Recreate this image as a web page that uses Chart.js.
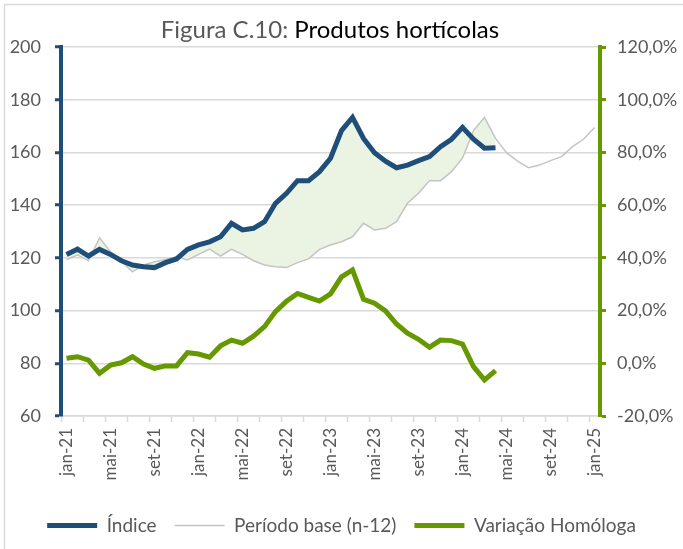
<!DOCTYPE html>
<html lang="pt">
<head>
<meta charset="utf-8">
<title>Figura C.10: Produtos hortícolas</title>
<script src="https://cdn.jsdelivr.net/npm/chart.js@4.4.1/dist/chart.umd.min.js"></script>
<style>
  html, body { margin: 0; padding: 0; background: #ffffff; }
  #wrap { width: 683px; height: 549px; position: relative; }
</style>
</head>
<body>
<div id="wrap"><canvas id="grafico"></canvas></div>
<script>
// --- dados ---
const meses = ['jan', 'fev', 'mar', 'abr', 'mai', 'jun', 'jul', 'ago', 'set', 'out', 'nov', 'dez'];
const anos = ['21', '22', '23', '24'];

// Índice (jan-21 a abr-24)
const indice = [
  121.3, 123.3, 120.7, 123.2, 121.3, 118.9, 117.3, 116.6, 116.3, 118.2, 119.6, 123.2,
  124.9, 126.1, 128.0, 133.1, 130.6, 131.2, 133.7, 140.7, 144.5, 149.3, 149.3, 152.7,
  157.8, 168.3, 173.3, 165.3, 159.9, 156.7, 154.2, 155.2, 156.9, 158.4, 162.2, 165.0,
  169.5, 165.0, 161.6, 161.8
];

// Período base (n-12), jan-21 a jan-25
const periodoBase = [
  119.4, 121.1, 118.9, 127.6, 122.3, 118.5, 114.7, 117.3, 118.5, 119.4, 120.4, 119.2,
  121.3, 123.3, 120.7, 123.2, 121.3, 118.9, 117.3, 116.6, 116.3, 118.2, 119.6, 123.2,
  124.9, 126.1, 128.0, 133.1, 130.6, 131.2, 133.7, 140.7, 144.5, 149.3, 149.3, 152.7,
  157.8, 168.3, 173.3, 165.3, 159.9, 156.7, 154.2, 155.2, 156.9, 158.4, 162.2, 165.0,
  169.5
];

// Variação homóloga (%), jan-21 a abr-24
const variacao = [
  1.9, 2.5, 1.2, -3.8, -0.7, 0.2, 2.5, -0.3, -1.9, -1.0, -1.0, 4.0,
  3.5, 2.3, 6.6, 8.8, 7.6, 10.3, 13.9, 19.6, 23.6, 26.5, 25.0, 23.6,
  26.3, 32.8, 35.4, 24.3, 22.8, 19.9, 14.9, 11.4, 9.1, 6.1, 8.8, 8.6,
  7.3, -1.3, -6.3, -2.8
];

// categorias mensais jan-21 ... jan-25
const categorias = [];
anos.forEach(a => meses.forEach(m => categorias.push(m + '-' + a)));
categorias.push('jan-25');

const nulos = n => Array(n).fill(null);
const serieIndice = indice.concat(nulos(categorias.length - indice.length));
const serieVariacao = variacao.concat(nulos(categorias.length - variacao.length));

// --- cores ---
const AZUL = '#1f4e79';
const VERDE = '#669900';
const CINZA = '#c4c4c4';
const GRELHA = '#d9d9d9';
const TEXTO = '#595959';
const PREENCHIMENTO = '#ebf3e3';

Chart.defaults.font.family = 'Lato, "Open Sans", sans-serif';
Chart.defaults.font.size = 18;
Chart.defaults.color = TEXTO;

// título a duas cores + moldura
const tituloPlugin = {
  id: 'titulo',
  afterDraw(chart) {
    const ctx = chart.ctx;
    ctx.save();
    // moldura (só esquerda e topo visíveis)
    ctx.strokeStyle = GRELHA;
    ctx.lineWidth = 1.5;
    ctx.beginPath();
    ctx.moveTo(4.5, 549);
    ctx.lineTo(4.5, 4.5);
    ctx.lineTo(683, 4.5);
    ctx.stroke();

    ctx.font = '24px Lato, "Open Sans", sans-serif';
    ctx.textBaseline = 'alphabetic';
    const parte1 = 'Figura C.10: ';
    const parte2 = 'Produtos hortícolas';
    const w1 = ctx.measureText(parte1).width;
    const w2 = ctx.measureText(parte2).width;
    const x0 = 330 - (w1 + w2) / 2;
    ctx.fillStyle = TEXTO;
    ctx.fillText(parte1, x0, 38);
    ctx.fillStyle = '#000000';
    ctx.fillText(parte2, x0 + w1, 38);
    ctx.restore();
  }
};

new Chart(document.getElementById('grafico'), {
  type: 'line',
  data: {
    labels: categorias,
    datasets: [
      {
        label: 'Índice',
        data: serieIndice,
        borderColor: AZUL,
        backgroundColor: PREENCHIMENTO,
        borderWidth: 5,
        pointRadius: 0,
        tension: 0,
        yAxisID: 'y',
        fill: { target: 1, above: PREENCHIMENTO, below: PREENCHIMENTO }
      },
      {
        label: 'Período base (n-12)',
        data: periodoBase,
        borderColor: CINZA,
        borderWidth: 1.5,
        pointRadius: 0,
        tension: 0,
        yAxisID: 'y',
        fill: false
      },
      {
        label: 'Variação Homóloga',
        data: serieVariacao,
        borderColor: VERDE,
        borderWidth: 5,
        pointRadius: 0,
        tension: 0,
        yAxisID: 'y1',
        fill: false
      }
    ]
  },
  options: {
    responsive: true,
    maintainAspectRatio: false,
    animation: false,
    layout: { padding: { top: 47, left: 0, right: 0, bottom: 4 } },
    scales: {
      x: {
        offset: true,
        grid: {
          offset: true,
          drawOnChartArea: false,
          tickLength: 6,
          tickWidth: 1.5,
          tickColor: ctx => (ctx.index % 2 === 0 ? GRELHA : 'rgba(0,0,0,0)')
        },
        border: { color: GRELHA, width: 1.5 },
        ticks: {
          autoSkip: false,
          minRotation: 90,
          maxRotation: 90,
          padding: 6,
          color: TEXTO,
          font: { size: 17 },
          callback: function (val, i) { return i % 4 === 0 ? this.getLabelForValue(val) : ''; }
        },
        afterFit: s => { s.height = 82; }
      },
      y: {
        position: 'left',
        min: 60,
        max: 200,
        ticks: { stepSize: 20, padding: 14, color: TEXTO },
        grid: { color: GRELHA, lineWidth: 1.5, tickLength: 6, tickColor: AZUL, tickWidth: 3 },
        border: { color: AZUL, width: 4 },
        afterFit: s => { s.width = 61; }
      },
      y1: {
        position: 'right',
        min: -20,
        max: 120,
        ticks: {
          stepSize: 20,
          padding: 11,
          color: TEXTO,
          callback: v => v.toFixed(1).replace('.', ',') + '%'
        },
        grid: { drawOnChartArea: false, tickLength: 6, tickColor: VERDE, tickWidth: 3 },
        border: { color: VERDE, width: 4 },
        afterFit: s => { s.width = 83; }
      }
    },
    plugins: {
      filler: { drawTime: 'beforeDatasetsDraw' },
      title: { display: false },
      tooltip: { enabled: false },
      legend: {
        position: 'bottom',
        labels: {
          usePointStyle: true,
          pointStyle: 'line',
          pointStyleWidth: 50,
          padding: 18,
          color: TEXTO,
          font: { size: 19 }
        }
      }
    }
  },
  plugins: [tituloPlugin]
});
</script>
</body>
</html>
